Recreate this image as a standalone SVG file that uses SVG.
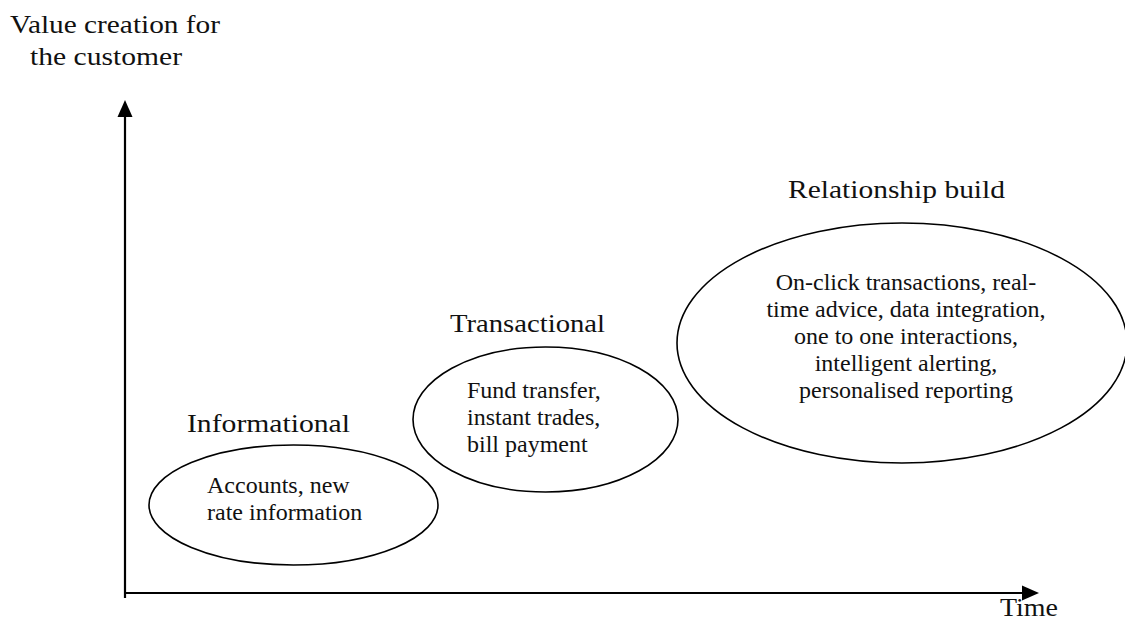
<svg xmlns="http://www.w3.org/2000/svg" width="1125" height="619" viewBox="0 0 1125 619">
<defs>
<style>
.h{font-family:"Liberation Serif","Times New Roman",serif;font-size:25px;fill:#111}
.b{font-family:"Liberation Serif","Times New Roman",serif;font-size:24px;fill:#111}
.c{text-anchor:middle}
.e{fill:none;stroke:#000;stroke-width:1.6}
.ax{stroke:#000;stroke-width:2.2;fill:none}
</style>
</defs>
<rect width="1125" height="619" fill="#fff"/>
<g id="axes">
<line class="ax" x1="125" y1="114" x2="125" y2="598"/>
<polygon points="125,100 117.5,117 132.5,117" fill="#000"/>
<line class="ax" x1="124" y1="593" x2="1024" y2="593"/>
<polygon points="1039,593 1022,585.5 1022,600.5" fill="#000"/>
</g>
<g id="labels">
<text class="h" x="10" y="33" textLength="210" lengthAdjust="spacingAndGlyphs">Value creation for</text>
<text class="h" x="30" y="65" textLength="152" lengthAdjust="spacingAndGlyphs">the customer</text>
<text class="h" x="1000" y="616" textLength="58" lengthAdjust="spacingAndGlyphs">Time</text>
</g>
<g id="informational">
<text class="h" x="187" y="432" textLength="163" lengthAdjust="spacingAndGlyphs">Informational</text>
<ellipse class="e" cx="293.5" cy="505" rx="144.5" ry="60"/>
<text class="b" x="207" y="493">Accounts, new</text>
<text class="b" x="207" y="520">rate information</text>
</g>
<g id="transactional">
<text class="h" x="450" y="332" textLength="155" lengthAdjust="spacingAndGlyphs">Transactional</text>
<ellipse class="e" cx="545.5" cy="419.5" rx="132.5" ry="72.5"/>
<text class="b" x="467" y="398">Fund transfer,</text>
<text class="b" x="467" y="425">instant trades,</text>
<text class="b" x="467" y="452">bill payment</text>
</g>
<g id="relationship">
<text class="h" x="788" y="198" textLength="217" lengthAdjust="spacingAndGlyphs">Relationship build</text>
<ellipse class="e" cx="902" cy="343" rx="225" ry="120"/>
<text class="b c" x="906" y="290">On-click transactions, real-</text>
<text class="b c" x="906" y="317">time advice, data integration,</text>
<text class="b c" x="906" y="344">one to one interactions,</text>
<text class="b c" x="906" y="371">intelligent alerting,</text>
<text class="b c" x="906" y="398">personalised reporting</text>
</g>
</svg>
